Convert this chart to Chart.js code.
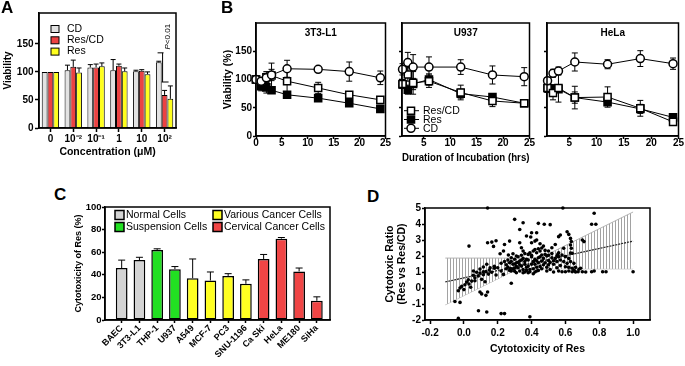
<!DOCTYPE html>
<html>
<head>
<meta charset="utf-8">
<script src="https://cdn.jsdelivr.net/npm/chart.js@4.4.1/dist/chart.umd.min.js"></script>
<style>
  html, body { margin: 0; padding: 0; background: #fff; }
  #fig { position: relative; width: 685px; height: 366px; overflow: hidden; font-family: "Liberation Sans", Arial, sans-serif; }
  #fig canvas { position: absolute; }
  .lbl { position: absolute; font-weight: bold; font-size: 17px; line-height: 17px; }
</style>
</head>
<body>
<div id="fig">
  <canvas id="chartA" width="182" height="160" style="left:0;top:0"></canvas>
  <canvas id="chartB1" width="172" height="150" style="left:220px;top:0"></canvas>
  <canvas id="chartB2" width="144" height="166" style="left:392px;top:0"></canvas>
  <canvas id="chartB3" width="148" height="150" style="left:537px;top:0"></canvas>
  <canvas id="chartC" width="272" height="176" style="left:68px;top:190px"></canvas>
  <canvas id="chartD" width="305" height="176" style="left:380px;top:190px"></canvas>
  <div class="lbl" style="left:1px;top:-1px">A</div>
  <div class="lbl" style="left:221px;top:-1px">B</div>
  <div class="lbl" style="left:54px;top:186px">C</div>
  <div class="lbl" style="left:367px;top:188px">D</div>
</div>
<script>
// Panel A - viability vs concentration
var concLabels = ['0', '10\u207B\u00B2', '10\u207B\u00B9', '1', '10', '10\u00B2'];
var seriesA = ['CD', 'Res/CD', 'Res'];
var cdA = [100, 103, 108, 103, 101, 117];
var cdAErr = [0, 9, 5, 19, 2, 2];
var resCdA = [100, 109, 108, 111, 102, 59];
var resCdAErr = [0, 12, 6, 3, 2, 8];
var resA = [100, 99, 110, 101, 96, 52];
var resAErr = [0, 8, 6, 6, 4, 23];
var viabilityTicks = [0, 50, 100, 150];

// Panel B - viability over time
var hoursL1 = [0, 1, 2, 3, 6, 12, 18, 24];
var hoursU937 = [1, 2, 3, 6, 12, 18, 24];
var hoursHeLa = [1, 2, 3, 6, 12, 18, 24];
var l1Cd = [100, 97, 103, 108, 119, 118, 114, 103];
var l1CdErr = [0, 5, 8, 10, 15, 2, 17, 12];
var l1ResCd = [100, 95, 104, 107, 97, 85, 73, 64];
var l1ResCdErr = [0, 8, 10, 22, 20, 10, 5, 3];
var l1Res = [100, 88, 86, 81, 73, 67, 58, 48];
var l1ResErr = [0, 8, 10, 4, 5, 5, 4, 3];
var u937Cd = [118, 130, 122, 122, 122, 108, 105];
var u937CdErr = [10, 18, 22, 18, 13, 16, 16];
var u937ResCd = [92, 109, 94, 97, 77, 62, 58];
var u937ResCdErr = [8, 12, 20, 11, 13, 10, 3];
var u937Res = [91, 82, 92, 100, 75, 69, 58];
var u937ResErr = [6, 8, 10, 10, 8, 5, 3];
var helaCd = [98, 111, 115, 131, 127, 137, 128];
var helaCdErr = [5, 7, 7, 16, 8, 14, 10];
var helaResCd = [85, 76, 85, 68, 69, 49, 25];
var helaResCdErr = [8, 12, 25, 20, 18, 14, 4];
var helaRes = [85, 83, 83, 68, 60, 48, 33];
var helaResErr = [8, 8, 6, 10, 6, 8, 5];
var hourTicksL1 = [0, 5, 10, 15, 20, 25];
var hourTicks = [5, 10, 15, 20, 25];

// Panel C - cytotoxicity of Res per cell line
var cells = ['BAEC', '3T3-L1', 'THP-1', 'U937', 'A549', 'MCF-7', 'PC3', 'SNU-1196', 'Ca Ski', 'HeLa', 'ME180', 'SiHa'];
var cellGroup = [0, 0, 1, 1, 2, 2, 2, 2, 3, 3, 3, 3];
var groupNames = ['Normal Cells', 'Suspension Cells', 'Various Cancer Cells', 'Cervical Cancer Cells'];
var cytoRes = [46, 53, 62, 45, 37, 35, 39, 32, 54, 72, 43, 17];
var cytoResErr = [7, 2.5, 1, 2.3, 17, 7.5, 2, 3.5, 4, 1, 3, 3.5];
var cytoTicks = [0, 20, 40, 60, 80, 100];

// Panel D - cytotoxic ratio vs cytotoxicity
var resCytotoxicity = [
  0.14, 0.585, 0.30, 0.35, 0.44, 0.475, 0.51, 0.77, 0.755, 0.78, 0.33, 0.40, 0.43, 0.37, 0.395, 0.43,
  0.27, 0.24, 0.14, 0.165, 0.19, 0.175, 0.03, 0.33, 0.34, 0.40, 0.42, 0.45, 0.47, 0.52, 0.54, 0.56,
  0.57, 0.61, 0.62, 0.63, 0.635, 0.63, 0.635, 0.70, 0.71, 0.59, 0.63, 0.56,
  0.234, 0.214, 0.263, 0.29, 0.28, 0.31, 0.35, 0.38, 0.41, 0.43, 0.45, 0.46, 0.48, 0.50, 0.44, 0.42,
  0.40, 0.37, 0.35, 0.33, 0.31, 0.29, 0.27, 0.26, 0.275, 0.30, 0.32, 0.34, 0.36, 0.38, 0.40, 0.42,
  0.44, 0.46, 0.48, 0.50, 0.52, 0.53, 0.55, 0.51, 0.28, 0.31, 0.33, 0.35, 0.37, 0.39, 0.41, 0.43,
  0.22, 0.20, 0.18, 0.155, 0.135, 0.115, 0.095, 0.075, 0.056, 0.115, 0.145, 0.164, 0.19, 0.234, 0.065, 0.085,
  0.105, 0.046, 0.125, 0.28,
  0.30, 0.32, 0.34, 0.36, 0.38, 0.39, 0.41, 0.43, 0.45, 0.47, 0.49, 0.47, 0.45, 0.43, 0.41, 0.39,
  0.37, 0.35, 0.33, 0.31, 0.29, 0.27, 0.25, 0.25, 0.24, 0.22, 0.26, 0.28, 0.30, 0.44, 0.46, 0.48,
  0.42, 0.40, 0.36, 0.34, 0.32, 0.30, 0.36, 0.38, 0.42, 0.44, 0.46, 0.49, 0.50, 0.51, 0.53, 0.54,
  0.55, 0.52, 0.50,
  0.555, 0.56, 0.58, 0.60, 0.62, 0.64, 0.55, 0.57, 0.59, 0.61, 0.63, 0.65, 0.60, 0.62, 0.64, 0.66,
  0.68, 0.69, 0.70, 0.56, 0.58, 0.60, 0.62, 0.64, 0.655, 0.675, 0.755, 0.77, 0.82, 0.84, 1.0, 0.49,
  0.53, 0.66, 0.72, 0.57, 0.65,
  -0.033, -0.023, -0.013, 0.006, 0.016, 0.026, 0.065, 0.055, 0.095, 0.115, 0.13, 0.15, 0.18, -0.053, -0.023, 0.086,
  0.135, 0.22, 0.24, -0.033, 0.095, 0.105, 0.14, 0.13, 0.39, 0.0, 0.03, 0.04
];
var cytotoxicRatio = [
  5.0, 5.0, 4.29, 4.08, 4.04, 3.98, 3.96, 4.67, 3.98, 3.98, 3.66, 3.45, 3.45, 3.25, 3.19, 3.0,
  2.93, 2.72, 2.83, 2.87, 2.95, 2.6, 2.62, 2.83, 2.52, 2.83, 2.93, 2.77, 2.62, 2.52, 2.72, 3.21,
  3.31, 3.52, 3.35, 3.10, 2.90, 2.69, 2.48, 3.0, 2.9, 2.48, 2.19, 2.2,
  2.31, 2.14, 2.06, 2.14, 1.89, 2.0, 2.31, 2.1, 2.31, 2.2, 2.31, 2.06, 2.1, 2.31, 1.89, 1.79,
  1.95, 1.79, 1.85, 1.68, 1.58, 1.48, 1.58, 1.31, 1.22, 1.23, 1.27, 1.37, 1.48, 1.37, 1.48, 1.48,
  1.58, 1.68, 1.58, 1.72, 1.89, 1.48, 1.27, 1.16, 1.06, 0.95, 1.06, 0.95, 1.10, 1.02, 0.89, 1.06,
  1.06, 1.27, 1.36, 1.27, 1.48, 1.31, 1.18, 0.98, 1.06, 1.02, 0.87, 0.98, 0.81, 0.85, 0.64, 0.75,
  0.54, 0.43, 0.39, 0.3,
  1.80, 1.95, 2.05, 1.65, 1.75, 2.2, 1.65, 1.70, 1.95, 1.85, 2.0, 1.45, 1.35, 1.30, 1.20, 1.15,
  1.30, 1.15, 1.45, 1.35, 1.20, 1.10, 1.20, 1.45, 1.65, 1.55, 1.75, 1.65, 1.50, 2.45, 2.50, 2.35,
  2.40, 2.05, 2.15, 1.75, 1.60, 1.05, 1.00, 0.95, 1.00, 1.10, 1.20, 1.30, 1.45, 1.60, 1.70, 1.85,
  2.00, 2.15, 2.05,
  2.1, 1.96, 2.06, 1.96, 1.85, 2.17, 1.65, 1.75, 1.65, 1.54, 1.65, 1.54, 1.33, 1.29, 1.23, 1.29,
  1.17, 1.23, 1.02, 1.06, 1.02, 1.02, 1.06, 1.02, 1.06, 1.02, 1.02, 1.06, 1.02, 1.02, 1.02, 1.06,
  1.0, 1.0, 1.0, 1.4, 1.1,
  -0.17, 0.0, 0.1, 0.2, 0.37, 0.51, 0.45, 0.8, 0.93, 0.83, 1.03, 1.12, 1.24, -0.84, -0.9, -1.42,
  -1.5, -1.6, -1.6, -1.9, -0.25, -0.37, -0.25, -0.46, -1.8, -0.1, 0.25, 0.05
];
var fitX = [-0.11, 1.0];
var fitY = [0.38, 2.93];
var bandX = [-0.11, 0.32, 0.45, 1.0];
var bandUpper = [1.87, 1.87, 1.87, 4.75];
var bandLower = [-1.05, 1.2, 1.2, 1.2];
var ratioTicksX = [-0.2, 0, 0.2, 0.4, 0.6, 0.8, 1.0];
var ratioTicksY = [5, 4, 3, 2, 1, 0, -1, -2];

(function () {
  'use strict';

  var FONT = '"Liberation Sans", Arial, Helvetica, sans-serif';
  Chart.defaults.font.family = FONT;
  Chart.defaults.color = '#000';
  Chart.defaults.animation = false;
  Chart.defaults.plugins.legend.display = false;
  Chart.defaults.plugins.tooltip.enabled = false;

  var colorsA = ['#e2e2e2', '#ec4242', '#ffff1e'];
  var groupColors = ['#d4d4d4', '#22e022', '#ffff22', '#f04545'];

  function bold(size) { return { size: size, weight: 'bold' }; }
  function fixWidth(w) {
    return function (scale) { scale.width = w; scale.paddingTop = 0; scale.paddingBottom = 0; };
  }
  function fixHeight(h) {
    return function (scale) { scale.height = h; scale.paddingLeft = 0; scale.paddingRight = 0; };
  }
  function setTicks(list) {
    return function (scale) { scale.ticks = list.map(function (v) { return { value: v }; }); };
  }
  function grid(len) {
    return { display: true, drawOnChartArea: false, drawTicks: true, tickLength: len, tickWidth: 1.5, tickColor: '#000', color: '#000', offset: false };
  }
  var border = { display: true, color: '#000', width: 1.5 };

  // error bars, placed with the chart's own y scale
  var errorBars = {
    id: 'errorBars',
    beforeDatasetsDraw: function (chart) {
      var ctx = chart.ctx;
      var yScale = chart.scales.y;
      chart.data.datasets.forEach(function (ds, i) {
        if (!ds.errors) { return; }
        var meta = chart.getDatasetMeta(i);
        ctx.save();
        ctx.strokeStyle = '#000';
        ctx.lineWidth = ds.errorLineWidth || 1;
        meta.data.forEach(function (el, j) {
          var e = ds.errors[j];
          if (!e) { return; }
          var p = ds.data[j];
          var v = typeof p === 'object' ? p.y : p;
          var hi = yScale.getPixelForValue(v + e);
          var lo = yScale.getPixelForValue(ds.errorsUp ? v : v - e);
          var cap = ds.errorCap || 3;
          ctx.beginPath();
          ctx.moveTo(el.x, hi);
          ctx.lineTo(el.x, lo);
          ctx.moveTo(el.x - cap, hi);
          ctx.lineTo(el.x + cap, hi);
          if (!ds.errorsUp) {
            ctx.moveTo(el.x - cap, lo);
            ctx.lineTo(el.x + cap, lo);
          }
          ctx.stroke();
        });
        ctx.restore();
      });
    }
  };

  // box round the plot area
  var frame = {
    id: 'frame',
    afterDraw: function (chart) {
      var a = chart.chartArea;
      var ctx = chart.ctx;
      ctx.save();
      ctx.strokeStyle = '#000';
      ctx.lineWidth = 1.5;
      ctx.strokeRect(a.left, a.top, a.right - a.left, a.bottom - a.top);
      ctx.restore();
    }
  };

  // ---------- A ----------
  var extrasA = {
    id: 'extrasA',
    afterDraw: function (chart) {
      var ctx = chart.ctx;
      var a = chart.chartArea;
      var x = chart.scales.x;
      var y = chart.scales.y;
      ctx.save();
      ctx.font = '10.5px ' + FONT;
      ctx.textBaseline = 'middle';
      seriesA.forEach(function (name, k) {
        var cy = a.top + 16 + k * 11.3;
        ctx.fillStyle = colorsA[k];
        ctx.fillRect(a.left + 12, cy - 3.5, 8, 7);
        ctx.strokeStyle = '#000';
        ctx.lineWidth = 1;
        ctx.strokeRect(a.left + 12, cy - 3.5, 8, 7);
        ctx.fillStyle = '#000';
        ctx.fillText(name, a.left + 28, cy);
      });
      // significance bracket at 10^2
      var cx = x.getPixelForValue(5) - 2;
      var top = y.getPixelForValue(134);
      var bot = y.getPixelForValue(82);
      ctx.lineWidth = 1;
      ctx.beginPath();
      ctx.moveTo(cx, top); ctx.lineTo(cx, bot);
      ctx.moveTo(cx - 5, top); ctx.lineTo(cx + 1, top);
      ctx.moveTo(cx - 1, bot); ctx.lineTo(cx + 6, bot);
      ctx.stroke();
      ctx.translate(cx + 5, y.getPixelForValue(140));
      ctx.rotate(-Math.PI / 2);
      ctx.textAlign = 'left';
      ctx.font = 'italic 8px ' + FONT;
      ctx.fillText('P', 0, 0);
      var w = ctx.measureText('P').width;
      ctx.font = '8px ' + FONT;
      ctx.fillText('<0.01', w, 0);
      ctx.restore();
    }
  };

  new Chart(document.getElementById('chartA'), {
    type: 'bar',
    data: {
      labels: concLabels,
      datasets: [
        { data: cdA, errors: cdAErr, errorsUp: true, errorCap: 2.5, backgroundColor: colorsA[0] },
        { data: resCdA, errors: resCdAErr, errorsUp: true, errorCap: 2.5, backgroundColor: colorsA[1] },
        { data: resA, errors: resAErr, errorsUp: true, errorCap: 2.5, backgroundColor: colorsA[2] }
      ]
    },
    options: {
      responsive: false,
      devicePixelRatio: 1,
      layout: { padding: { top: 13, right: 6, left: 0, bottom: 0 } },
      datasets: { bar: { borderColor: '#000', borderWidth: 1, categoryPercentage: 0.76, barPercentage: 1 } },
      scales: {
        x: {
          afterFit: fixHeight(32),
          grid: grid(4),
          border: border,
          ticks: { font: bold(10), padding: 1, autoSkip: false, maxRotation: 0 },
          title: { display: true, text: 'Concentration (\u03BCM)', font: bold(10.5), padding: { top: 0, bottom: 1.7 } }
        },
        y: {
          min: 0,
          max: 205,
          afterBuildTicks: setTicks(viabilityTicks),
          afterFit: fixWidth(39),
          grid: grid(4),
          border: border,
          ticks: { font: bold(10), padding: 1.5 },
          title: { display: true, text: 'Viability', font: bold(10), padding: { top: 2.5, bottom: 0 } }
        }
      }
    },
    plugins: [errorBars, frame, extrasA]
  });

  // ---------- B ----------
  var markers = {
    resCd: { shape: 'rect', r: 5, fill: '#fff' },
    res: { shape: 'rect', r: 5, fill: '#000' },
    cd: { shape: 'circle', r: 4, fill: '#fff' }
  };
  var legendB = [['Res/CD', markers.resCd], ['Res', markers.res], ['CD', markers.cd]];

  function lineSet(hours, vals, errs, m) {
    return {
      data: hours.map(function (t, k) { return { x: t, y: vals[k] }; }),
      errors: errs,
      errorCap: 3,
      borderColor: '#000',
      borderWidth: 1,
      pointStyle: m.shape,
      pointRadius: m.r,
      pointBackgroundColor: m.fill,
      pointBorderColor: '#000',
      pointBorderWidth: 1.5,
      clip: false,
      tension: 0
    };
  }

  function drawMarker(ctx, m, x, y) {
    ctx.beginPath();
    if (m.shape === 'rect') {
      var s = m.r * Math.SQRT1_2;
      ctx.rect(x - s, y - s, 2 * s, 2 * s);
    } else {
      ctx.arc(x, y, m.r, 0, Math.PI * 2);
    }
    ctx.fillStyle = m.fill;
    ctx.fill();
    ctx.lineWidth = 1.5;
    ctx.strokeStyle = '#000';
    ctx.stroke();
  }

  function makeB(id, cfg) {
    var titlePlugin = {
      id: 'titleB',
      afterDraw: function (chart) {
        var a = chart.chartArea;
        var ctx = chart.ctx;
        ctx.save();
        ctx.font = 'bold 10px ' + FONT;
        ctx.fillStyle = '#000';
        ctx.textAlign = 'center';
        ctx.textBaseline = 'middle';
        ctx.fillText(cfg.title, (a.left + a.right) / 2, a.top + 10);
        if (cfg.legend) {
          ctx.textAlign = 'left';
          ctx.font = '10.5px ' + FONT;
          legendB.forEach(function (item, k) {
            var cy = a.bottom - 25.3 + k * 8.8;
            ctx.beginPath();
            ctx.moveTo(a.left + 2, cy);
            ctx.lineTo(a.left + 17, cy);
            ctx.lineWidth = 1;
            ctx.strokeStyle = '#000';
            ctx.stroke();
            drawMarker(ctx, item[1], a.left + 9, cy);
            ctx.fillStyle = '#000';
            ctx.fillText(item[0], a.left + 21, cy + 0.5);
          });
        }
        ctx.restore();
      }
    };
    return new Chart(document.getElementById(id), {
      type: 'line',
      data: {
        datasets: [
          lineSet(cfg.hours, cfg.cd, cfg.cdErr, markers.cd),
          lineSet(cfg.hours, cfg.resCd, cfg.resCdErr, markers.resCd),
          lineSet(cfg.hours, cfg.res, cfg.resErr, markers.res)
        ]
      },
      options: {
        responsive: false,
        devicePixelRatio: 1,
        layout: { padding: { top: 23, right: cfg.padRight, left: 0, bottom: 0 } },
        scales: {
          x: {
            type: 'linear',
            min: cfg.xMin,
            max: 25,
            afterBuildTicks: setTicks(cfg.xTicks),
            afterFit: fixHeight(cfg.xHeight),
            grid: grid(3),
            border: border,
            ticks: { font: bold(10), padding: -2, maxRotation: 0 },
            title: cfg.xTitle ? { display: true, text: cfg.xTitle, font: bold(10.5), padding: { top: 0, bottom: 1.7 } } : { display: false }
          },
          y: {
            min: 0,
            max: 200,
            afterBuildTicks: setTicks(viabilityTicks),
            afterFit: fixWidth(cfg.yWidth),
            grid: grid(3),
            border: border,
            ticks: { display: cfg.yLabels, font: bold(10), padding: 1 },
            title: cfg.yTitle ? { display: true, text: cfg.yTitle, font: bold(10.5), padding: { top: 1.7, bottom: 0 } } : { display: false }
          }
        }
      },
      plugins: [errorBars, frame, titlePlugin]
    });
  }

  makeB('chartB1', {
    title: '3T3-L1', hours: hoursL1,
    cd: l1Cd, cdErr: l1CdErr, resCd: l1ResCd, resCdErr: l1ResCdErr, res: l1Res, resErr: l1ResErr,
    xMin: 0, xTicks: hourTicksL1, xHeight: 14, yWidth: 36, padRight: 3,
    yLabels: true, yTitle: 'Viability (%)'
  });
  makeB('chartB2', {
    title: 'U937', hours: hoursU937,
    cd: u937Cd, cdErr: u937CdErr, resCd: u937ResCd, resCdErr: u937ResCdErr, res: u937Res, resErr: u937ResErr,
    xMin: 0.9, xTicks: hourTicks, xHeight: 30, yWidth: 10, padRight: 3,
    yLabels: false, xTitle: 'Duration of Incubation (hrs)', legend: true
  });
  makeB('chartB3', {
    title: 'HeLa', hours: hoursHeLa,
    cd: helaCd, cdErr: helaCdErr, resCd: helaResCd, resCdErr: helaResCdErr, res: helaRes, resErr: helaResErr,
    xMin: 0.9, xTicks: hourTicks, xHeight: 14, yWidth: 10, padRight: 6,
    yLabels: false
  });

  // ---------- C ----------
  var legendC = {
    id: 'legendC',
    afterDraw: function (chart) {
      var a = chart.chartArea;
      var ctx = chart.ctx;
      ctx.save();
      ctx.font = '10.5px ' + FONT;
      ctx.textBaseline = 'middle';
      groupNames.forEach(function (name, k) {
        var col = k >= 2 ? 1 : 0;
        var row = k % 2;
        var sx = a.left + (col ? 108 : 10);
        var cy = a.top + 8 + row * 12;
        ctx.fillStyle = groupColors[k];
        ctx.fillRect(sx, cy - 4.5, 9, 9);
        ctx.strokeStyle = '#000';
        ctx.lineWidth = 1.5;
        ctx.strokeRect(sx, cy - 4.5, 9, 9);
        ctx.fillStyle = '#000';
        ctx.fillText(name, sx + 11, cy + 0.5);
      });
      ctx.restore();
    }
  };

  new Chart(document.getElementById('chartC'), {
    type: 'bar',
    data: {
      datasets: [{
        data: cells.map(function (c, i) { return { x: i, y: cytoRes[i] }; }),
        errors: cytoResErr,
        errorsUp: true,
        errorCap: 3.5,
        backgroundColor: cellGroup.map(function (g) { return groupColors[g]; }),
        borderColor: '#000',
        borderWidth: 1.5,
        borderSkipped: false,
        categoryPercentage: 1,
        barPercentage: 0.66
      }]
    },
    options: {
      responsive: false,
      devicePixelRatio: 1,
      layout: { padding: { top: 17, right: 10, left: 0, bottom: 0 } },
      scales: {
        x: {
          type: 'linear',
          offset: false,
          min: -0.94,
          max: 11.74,
          afterBuildTicks: setTicks(cells.map(function (c, i) { return i; })),
          afterFit: fixHeight(46),
          grid: grid(3),
          border: border,
          ticks: {
            font: bold(9), padding: 0, autoSkip: false, maxRotation: 45, minRotation: 45,
            callback: function (v) { return cells[v]; }
          }
        },
        y: {
          min: 0,
          max: 100,
          afterBuildTicks: setTicks(cytoTicks),
          afterFit: fixWidth(37),
          grid: grid(3),
          border: border,
          ticks: { font: bold(9.5), padding: 0.5 },
          title: { display: true, text: 'Cytotoxicity of Res (%)', font: bold(9), padding: { top: 5.6, bottom: 0 } }
        }
      }
    },
    plugins: [errorBars, frame, legendC]
  });

  // ---------- D ----------
  function hatchPattern() {
    var c = document.createElement('canvas');
    c.width = 3;
    c.height = 3;
    var g = c.getContext('2d');
    g.fillStyle = '#ffffff';
    g.fillRect(0, 0, 3, 3);
    g.fillStyle = '#a2a2a2';
    g.fillRect(1, 0, 1, 3);
    return g.createPattern(c, 'repeat');
  }
  function pairs(xs, ys) {
    return xs.map(function (v, i) { return { x: v, y: ys[i] }; });
  }

  new Chart(document.getElementById('chartD'), {
    type: 'scatter',
    data: {
      datasets: [
        { data: pairs(resCytotoxicity, cytotoxicRatio), pointRadius: 1.8, pointBackgroundColor: '#000', pointBorderWidth: 0, clip: false },
        { data: pairs(fitX, fitY), showLine: true, borderColor: '#222', borderWidth: 1.2, borderDash: [2, 1], pointRadius: 0 },
        { data: pairs(bandX, bandUpper), showLine: true, borderColor: '#b3b3b3', borderWidth: 1, pointRadius: 0, fill: '+1', backgroundColor: hatchPattern() },
        { data: pairs(bandX, bandLower), showLine: true, borderColor: '#b3b3b3', borderWidth: 1, pointRadius: 0 }
      ]
    },
    options: {
      responsive: false,
      devicePixelRatio: 1,
      layout: { padding: { top: 18, right: 35, left: 0, bottom: 0 } },
      scales: {
        x: {
          type: 'linear',
          min: -0.23,
          max: 1.1,
          afterBuildTicks: setTicks(ratioTicksX),
          afterFit: fixHeight(46),
          grid: grid(4),
          border: border,
          ticks: { font: bold(10), padding: 3, maxRotation: 0, callback: function (v) { return v.toFixed(1); } },
          title: { display: true, text: 'Cytotoxicity of Res', font: bold(10.5), padding: { top: 0, bottom: 10.7 } }
        },
        y: {
          min: -2,
          max: 5,
          afterBuildTicks: setTicks(ratioTicksY),
          afterFit: fixWidth(45),
          grid: grid(3),
          border: border,
          ticks: { font: bold(10), padding: 1 },
          title: { display: true, text: ['Cytotoxic Ratio', '(Res vs Res/CD)'], font: bold(10.5), padding: { top: 3.7, bottom: 0 } }
        }
      }
    },
    plugins: [frame]
  });
}());
</script>
</body>
</html>
